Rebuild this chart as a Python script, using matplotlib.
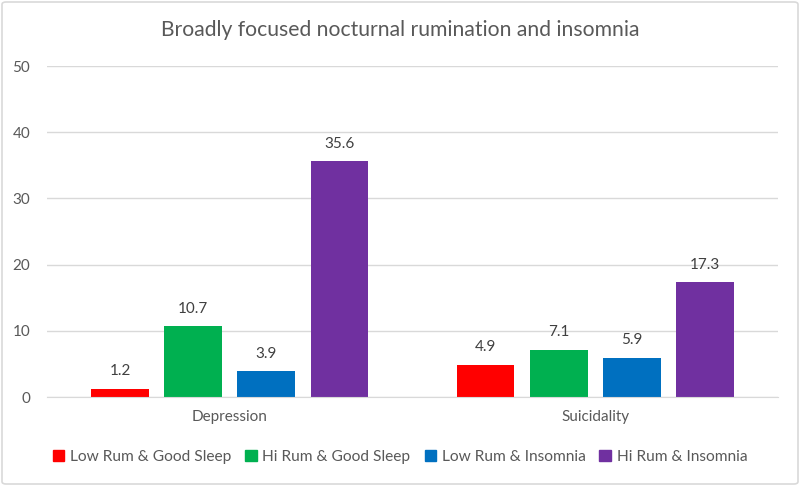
import matplotlib.pyplot as plt
import matplotlib.patches as mpatches
import numpy as np

plt.rcParams['font.family'] = ['Lato', 'DejaVu Sans']

categories = ['Depression', 'Suicidality']
series_names = ['Low Rum & Good Sleep', 'Hi Rum & Good Sleep',
                'Low Rum & Insomnia', 'Hi Rum & Insomnia']
low_rum_good_sleep = [1.2, 4.9]
hi_rum_good_sleep = [10.7, 7.1]
low_rum_insomnia = [3.9, 5.9]
hi_rum_insomnia = [35.6, 17.3]
colors = ['#FF0000', '#00B050', '#0070C0', '#7030A0']

text_col = '#595959'

fig = plt.figure(figsize=(8, 4.86), dpi=100)
ax = fig.add_axes([47 / 800, 1 - 397 / 486, 731 / 800, 331 / 486])

x = np.arange(len(categories))
step = 0.2
width = 0.158
all_series = [low_rum_good_sleep, hi_rum_good_sleep, low_rum_insomnia, hi_rum_insomnia]
for i, (vals, name, col) in enumerate(zip(all_series, series_names, colors)):
    pos = x + (i - 1.5) * step
    bars = ax.bar(pos, vals, width, color=col, label=name, zorder=3)
    for b, v in zip(bars, vals):
        ax.text(b.get_x() + b.get_width() / 2, v + 1.6, f'{v:.1f}',
                ha='center', va='bottom', fontsize=11, color='#404040')

ax.set_xlim(-0.5, 1.5)
ax.set_ylim(0, 50)
ax.set_yticks(range(0, 51, 10))
ax.set_xticks(x)
ax.set_xticklabels(categories)
ax.tick_params(axis='both', length=0, labelsize=11, labelcolor=text_col)
ax.tick_params(axis='x', pad=9)
ax.tick_params(axis='y', pad=12)
ax.yaxis.grid(True, color='#D9D9D9', linewidth=1, zorder=0)
for s in ['top', 'right', 'left']:
    ax.spines[s].set_visible(False)
ax.spines['bottom'].set_color('#D9D9D9')
ax.spines['bottom'].set_zorder(4)

fig.text(0.5, 1 - 30 / 486, 'Broadly focused nocturnal rumination and insomnia',
         ha='center', va='center', fontsize=15.2, color=text_col)

handles = [mpatches.Patch(color=c, label=n) for c, n in zip(colors, series_names)]
fig.legend(handles=handles, loc='center', bbox_to_anchor=(0.5, 1 - 457 / 486),
           ncol=4, frameon=False, fontsize=11.2, labelcolor=text_col,
           handlelength=0.75, handleheight=0.75, handletextpad=0.35,
           columnspacing=0.9)

border = mpatches.FancyBboxPatch((2 / 800, 2 / 486), 796 / 800, 482 / 486,
                                 boxstyle='round,pad=0,rounding_size=0.005',
                                 transform=fig.transFigure, fill=False,
                                 edgecolor='#D9D9D9', linewidth=1.2)
fig.patches.append(border)

plt.savefig('out.png')
plt.close(fig)
